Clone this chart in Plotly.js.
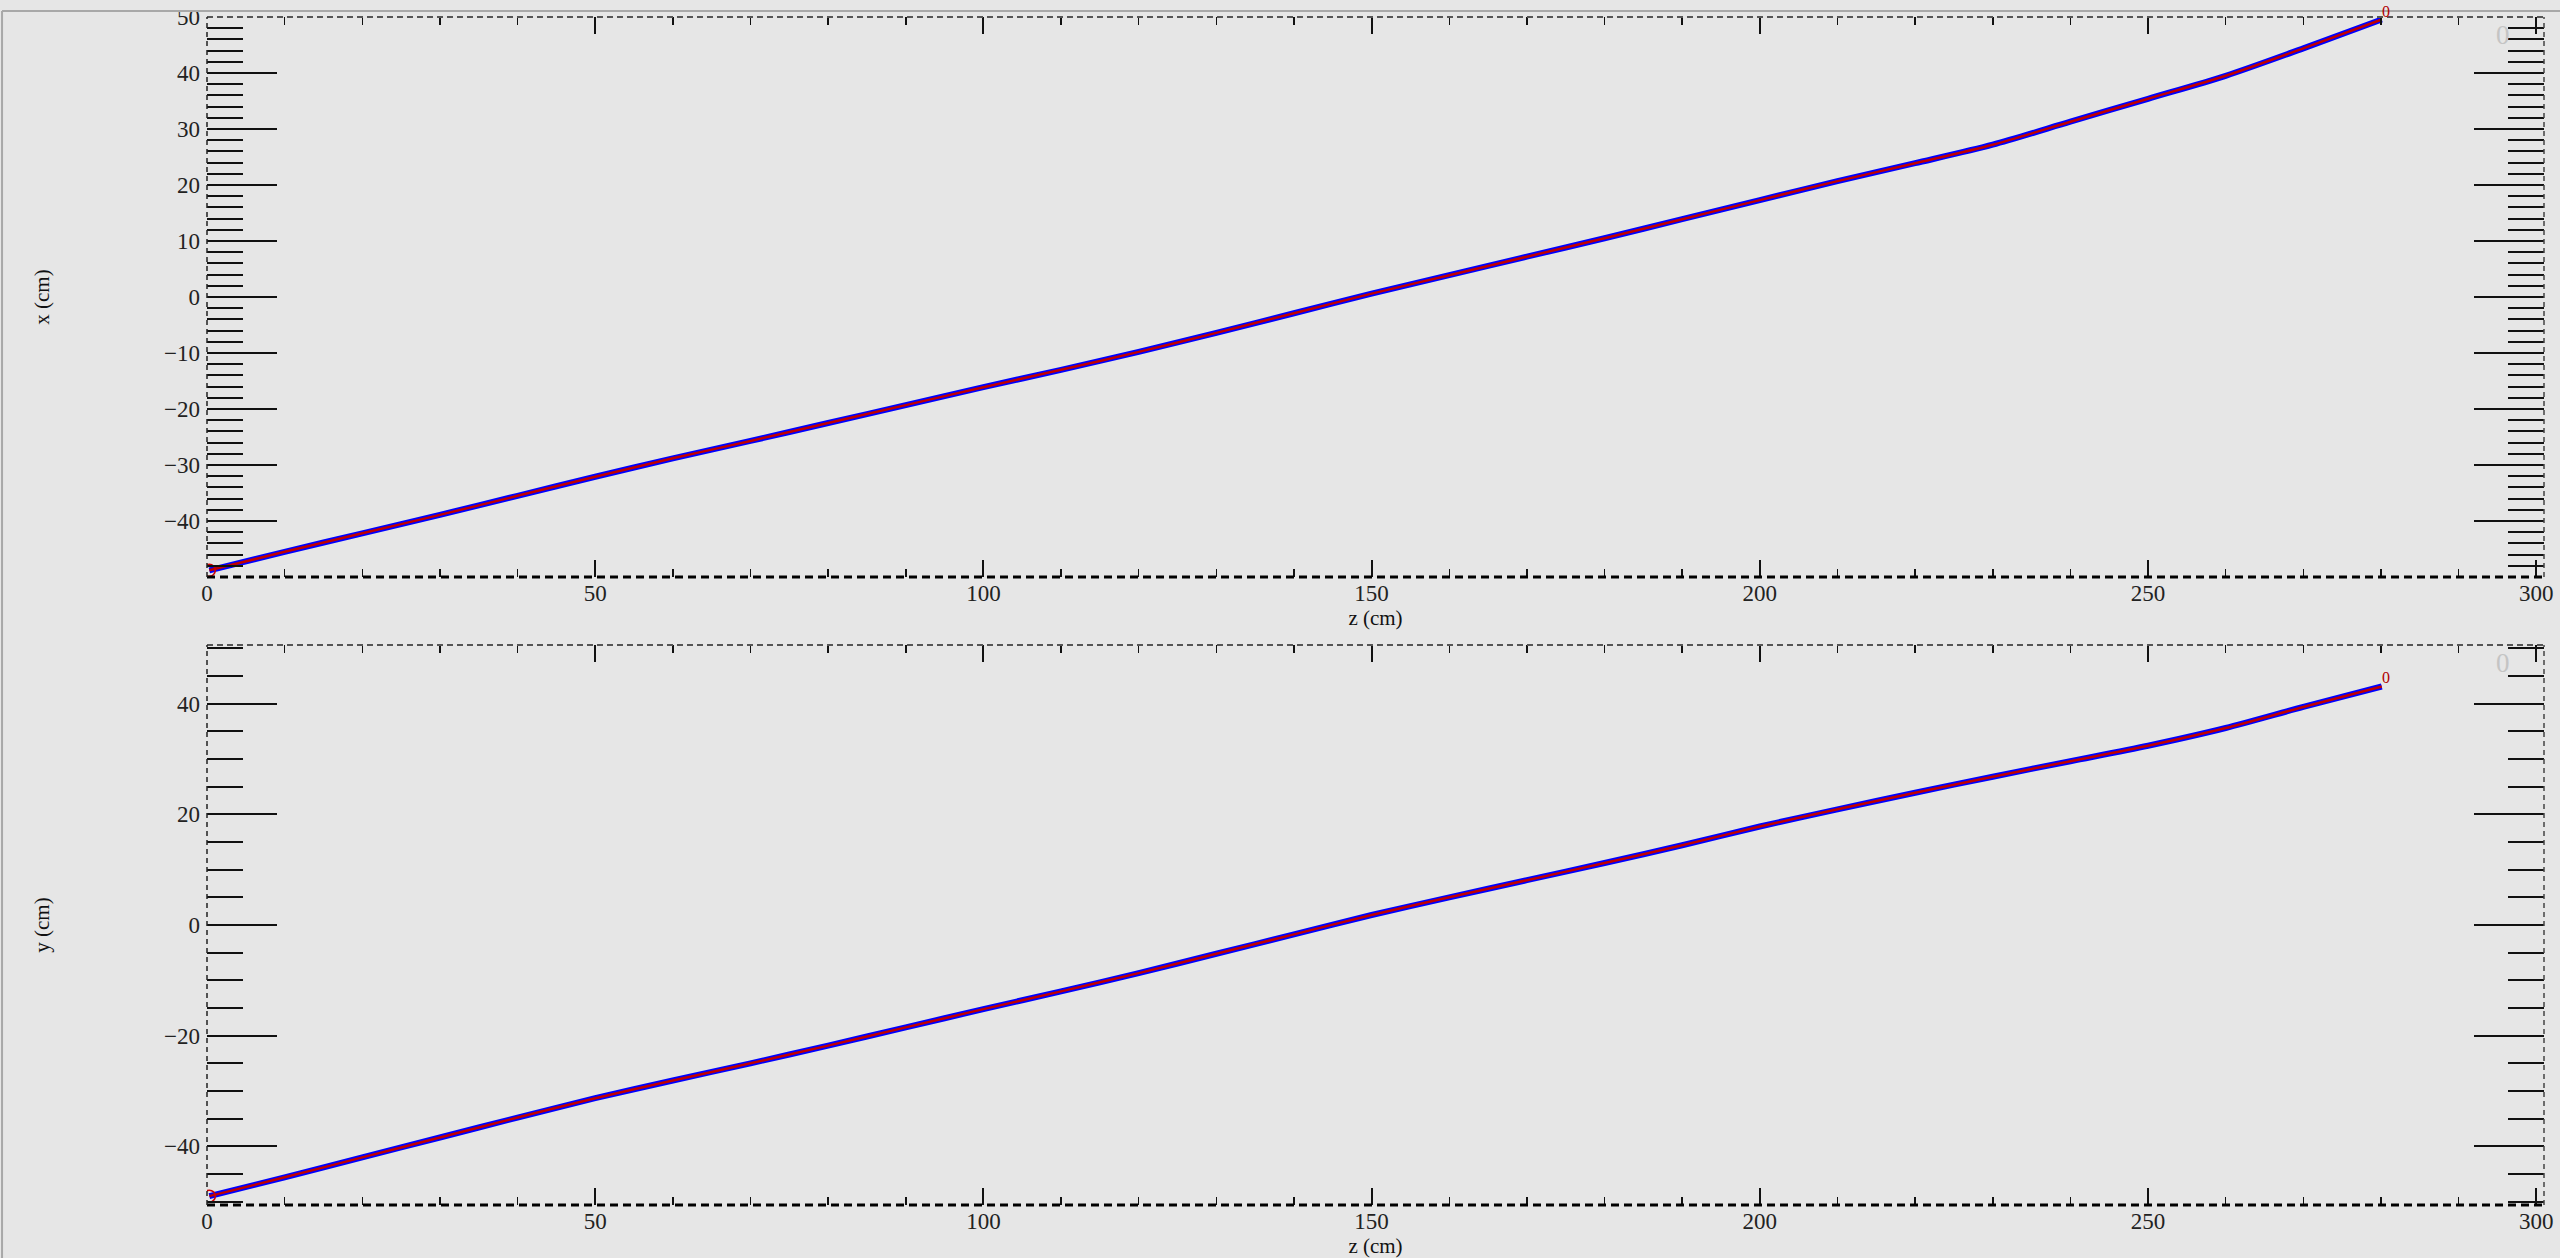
<!DOCTYPE html>
<html>
<head>
<meta charset="utf-8">
<script src="https://cdn.plot.ly/plotly-3.0.1.min.js"></script>
<style>
  html, body { margin: 0; padding: 0; background: #e6e6e6; }
  #plot { width: 2560px; height: 1258px; }
</style>
</head>
<body>
<div id="plot"></div>
<script>
// Track path sampled along the beam axis z (cm)
const zPos = [0.3, 10, 20, 30, 40, 50, 60, 70, 80, 90, 100, 110, 120, 130, 140,
              150, 160, 170, 180, 190, 200, 210, 220, 230, 240, 250, 260, 270, 280.1];
// Transverse x (cm) of the track at each z
const xPos = [-48.8, -45.5, -42.2, -38.9, -35.5, -32.1, -28.8, -25.7, -22.5, -19.3,
              -16.1, -13.0, -9.8, -6.4, -2.9, 0.6, 3.9, 7.2, 10.5, 13.9,
              17.3, 20.7, 23.9, 27.2, 31.3, 35.4, 39.5, 44.4, 49.55];
// Transverse y (cm) of the track at each z
const yPos = [-49.0, -45.6, -42.0, -38.4, -34.8, -31.3, -28.1, -25.0, -21.8, -18.5,
              -15.2, -12.0, -8.7, -5.2, -1.7, 1.8, 5.0, 8.1, 11.2, 14.4,
              17.8, 20.9, 23.9, 26.8, 29.6, 32.4, 35.6, 39.4, 43.1];
const trackLabel = "0";

// Axis tick values
const zTicks = [0, 50, 100, 150, 200, 250, 300];
const xTicks = [-40, -30, -20, -10, 0, 10, 20, 30, 40, 50];
const yTicks = [-40, -20, 0, 20, 40];

const serif = "Liberation Serif, Times New Roman, serif";
const bg = "#e6e6e6";

function trackTraces(xa, ya, vals) {
  return [
    { x: zPos, y: vals, xaxis: xa, yaxis: ya, type: "scatter", mode: "lines",
      line: { color: "#0000ff", width: 6, shape: "spline", smoothing: 0.8 },
      hoverinfo: "skip", showlegend: false },
    { x: zPos, y: vals, xaxis: xa, yaxis: ya, type: "scatter", mode: "lines",
      line: { color: "#c00000", width: 2.5, shape: "spline", smoothing: 0.8 },
      hoverinfo: "skip", showlegend: false },
    { x: [zPos[0]], y: [vals[0]], xaxis: xa, yaxis: ya, type: "scatter", mode: "markers",
      marker: { symbol: "circle-open", size: 12, color: "#d00000", line: { width: 1.5, color: "#d00000" } },
      hoverinfo: "skip", showlegend: false }
  ];
}

const data = [].concat(trackTraces("x", "y", xPos), trackTraces("x2", "y2", yPos));

function zAxis(anchor) {
  return {
    anchor: anchor, domain: [0, 1], range: [0, 301],
    tickmode: "array", tickvals: zTicks,
    ticks: "inside", ticklen: 17, tickwidth: 2, tickcolor: "#111",
    minor: { ticks: "inside", ticklen: 8, tickwidth: 1.5, tickcolor: "#111", tick0: 0, dtick: 10, showgrid: false },
    mirror: "ticks", showline: false, showgrid: false, zeroline: false,
    tickfont: { family: serif, size: 23, color: "#222" },
    title: { text: "z (cm)", font: { family: serif, size: 21, color: "#111" }, standoff: 4 }
  };
}

function vAxis(anchor, domain, range, ticks, minorStep, title) {
  return {
    anchor: anchor, domain: domain, range: range,
    tickmode: "array", tickvals: ticks,
    ticks: "inside", ticklen: 70, tickwidth: 2, tickcolor: "#111",
    minor: { ticks: "inside", ticklen: 36, tickwidth: 2, tickcolor: "#111", tick0: 0, dtick: minorStep, showgrid: false },
    mirror: "ticks", showline: false, showgrid: false, zeroline: false,
    ticklabelstandoff: 6,
    tickfont: { family: serif, size: 23, color: "#222" },
    title: { text: title, font: { family: serif, size: 21, color: "#111" }, standoff: 108 }
  };
}

// Dashed frame around each panel
function frame(xa, ya) {
  const xr = xa + " domain", yr = ya + " domain";
  return [
    { type: "line", xref: xr, yref: yr, x0: 0, x1: 1, y0: 1, y1: 1,
      line: { color: "#555", width: 2, dash: "6px,4px" } },
    { type: "line", xref: xr, yref: yr, x0: 0, x1: 1, y0: 0, y1: 0,
      line: { color: "#000", width: 3, dash: "8px,5px" } },
    { type: "line", xref: xr, yref: yr, x0: 0, x1: 0, y0: 0, y1: 1,
      line: { color: "#222", width: 1.5, dash: "5px,4px" } },
    { type: "line", xref: xr, yref: yr, x0: 1, x1: 1, y0: 0, y1: 1,
      line: { color: "#444", width: 1.5, dash: "5px,4px" } }
  ];
}

const shapes = [].concat(frame("x", "y"), frame("x2", "y2"), [
  // canvas border
  { type: "line", xref: "paper", yref: "paper", x0: -0.0877, x1: 1.01, y0: 1.005, y1: 1.005,
    line: { color: "#a8a8a8", width: 2 } },
  { type: "line", xref: "paper", yref: "paper", x0: -0.0877, x1: -0.0877, y0: -0.05, y1: 1.005,
    line: { color: "#a8a8a8", width: 2 } }
]);

const last = zPos.length - 1;
const annotations = [
  { xref: "x domain", yref: "y domain", x: 0.9825, y: 0.968, xanchor: "center", yanchor: "middle",
    text: "0", showarrow: false, font: { family: serif, size: 27, color: "#c4c4c4" } },
  { xref: "x2 domain", yref: "y2 domain", x: 0.9825, y: 0.968, xanchor: "center", yanchor: "middle",
    text: "0", showarrow: false, font: { family: serif, size: 27, color: "#c4c4c4" } },
  { xref: "x", yref: "y", x: zPos[last], y: xPos[last], text: trackLabel, showarrow: false,
    xanchor: "left", yanchor: "bottom", xshift: -2, yshift: -2,
    font: { family: serif, size: 16, color: "#b00000" } },
  { xref: "x2", yref: "y2", x: zPos[last], y: yPos[last], text: trackLabel, showarrow: false,
    xanchor: "left", yanchor: "bottom", xshift: -2, yshift: -2,
    font: { family: serif, size: 16, color: "#b00000" } }
];

const layout = {
  width: 2560, height: 1258,
  margin: { l: 207, r: 16, t: 17, b: 53 },
  paper_bgcolor: bg, plot_bgcolor: bg,
  showlegend: false,
  xaxis: zAxis("y"),
  xaxis2: zAxis("y2"),
  yaxis: vAxis("x", [0.5286, 1], [-50, 50], xTicks, 2, "x (cm)"),
  yaxis2: vAxis("x2", [0, 0.4714], [-50.6, 50.6], yTicks, 5, "y (cm)"),
  shapes: shapes,
  annotations: annotations
};

Plotly.newPlot("plot", data, layout, { staticPlot: true, displayModeBar: false });
</script>
</body>
</html>
